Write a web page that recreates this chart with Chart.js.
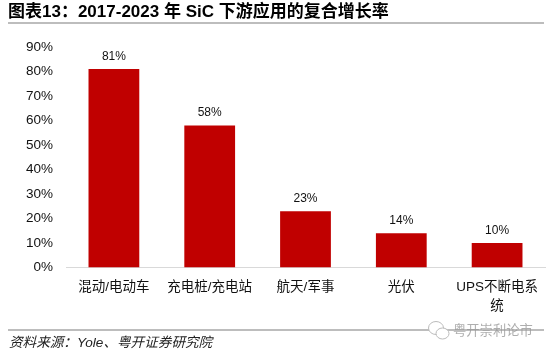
<!DOCTYPE html>
<html>
<head>
<meta charset="utf-8">
<script src="https://cdn.jsdelivr.net/npm/chart.js@4"></script>
<style>
    body { margin: 0; background: #fff; font-family: "Liberation Sans", "Noto Sans CJK SC", sans-serif; }
    #wrap { position: relative; width: 550px; height: 356px; overflow: hidden; }
    #wrap canvas { position: absolute; left: 0; top: 0; }
    .title { position: absolute; left: 8px; top: 2px; font-size: 17px; font-weight: bold; color: #000; line-height: 20px; white-space: nowrap; }
    .rule { position: absolute; left: 8px; width: 536px; background: #bdbdbd; }
    .source { position: absolute; left: 9px; top: 334px; font-size: 13.6px; font-style: italic; color: #222; line-height: 18px; white-space: nowrap; }
    .mark { position: absolute; left: 453px; top: 322px; font-size: 13.3px; color: #9a9a9a; opacity: 0.8; line-height: 18px; white-space: nowrap; }
    .icono { position: absolute; left: 427px; top: 320px; }
</style>
</head>
<body>
<div id="wrap">
    <canvas id="grafica" width="550" height="356"></canvas>
    <div class="title">图表13：2017-2023 年 SiC 下游应用的复合增长率</div>
    <div class="rule" style="top:22px;height:2px"></div>
    <div class="rule" style="top:329px;height:2px"></div>
    <div class="source">资料来源：Yole、粤开证券研究院</div>
    <svg class="icono" width="24" height="22" viewBox="0 0 24 22">
        <ellipse cx="9" cy="8" rx="7.5" ry="6.5" fill="#fff" stroke="#bbb"/>
        <ellipse cx="15.5" cy="13.5" rx="6.5" ry="5.5" fill="#fff" stroke="#bbb"/>
    </svg>
    <div class="mark">粤开崇利论市</div>
</div>
<script>
const categorias = ['混动/电动车', '充电桩/充电站', '航天/军事', '光伏', ['UPS不断电系', '统']];
const valores = [81, 58, 23, 14, 10];
const fuente = '"Liberation Sans", "Noto Sans CJK SC", sans-serif';

// etiquetas encima de cada barra
const etiquetas = {
    id: 'etiquetas',
    afterDatasetsDraw(chart) {
        const { ctx } = chart;
        ctx.save();
        ctx.font = '12px ' + fuente;
        ctx.fillStyle = '#111';
        ctx.textAlign = 'center';
        chart.getDatasetMeta(0).data.forEach((barra, i) => {
            ctx.fillText(valores[i] + '%', barra.x, barra.y - 9);
        });
        ctx.restore();
    }
};

const myChart = new Chart(document.getElementById('grafica'), {
    type: 'bar',
    data: {
        labels: categorias,
        datasets: [
            {
                data: valores,
                backgroundColor: '#c00000',
                barPercentage: 0.53,
                categoryPercentage: 1
            }
        ]
    },
    options: {
        responsive: false,
        animation: false,
        layout: { padding: { top: 47, left: 0, right: 5, bottom: 38 } },
        plugins: { legend: { display: false }, title: { display: false }, tooltip: { enabled: false } },
        scales: {
            x: {
                grid: { display: false },
                border: { color: '#d9d9d9', width: 1 },
                ticks: { color: '#111', font: { size: 13.5, family: fuente, lineHeight: 1.35 }, maxRotation: 0, autoSkip: false, padding: 3 }
            },
            y: {
                min: 0,
                max: 90,
                grid: { display: false },
                border: { display: false },
                afterFit(scale) { scale.width = 66; },
                ticks: {
                    stepSize: 10,
                    color: '#111',
                    padding: 5,
                    font: { size: 13.5, family: fuente },
                    callback: (v) => v + '%'
                }
            }
        }
    },
    plugins: [etiquetas]
});
</script>
</body>
</html>
